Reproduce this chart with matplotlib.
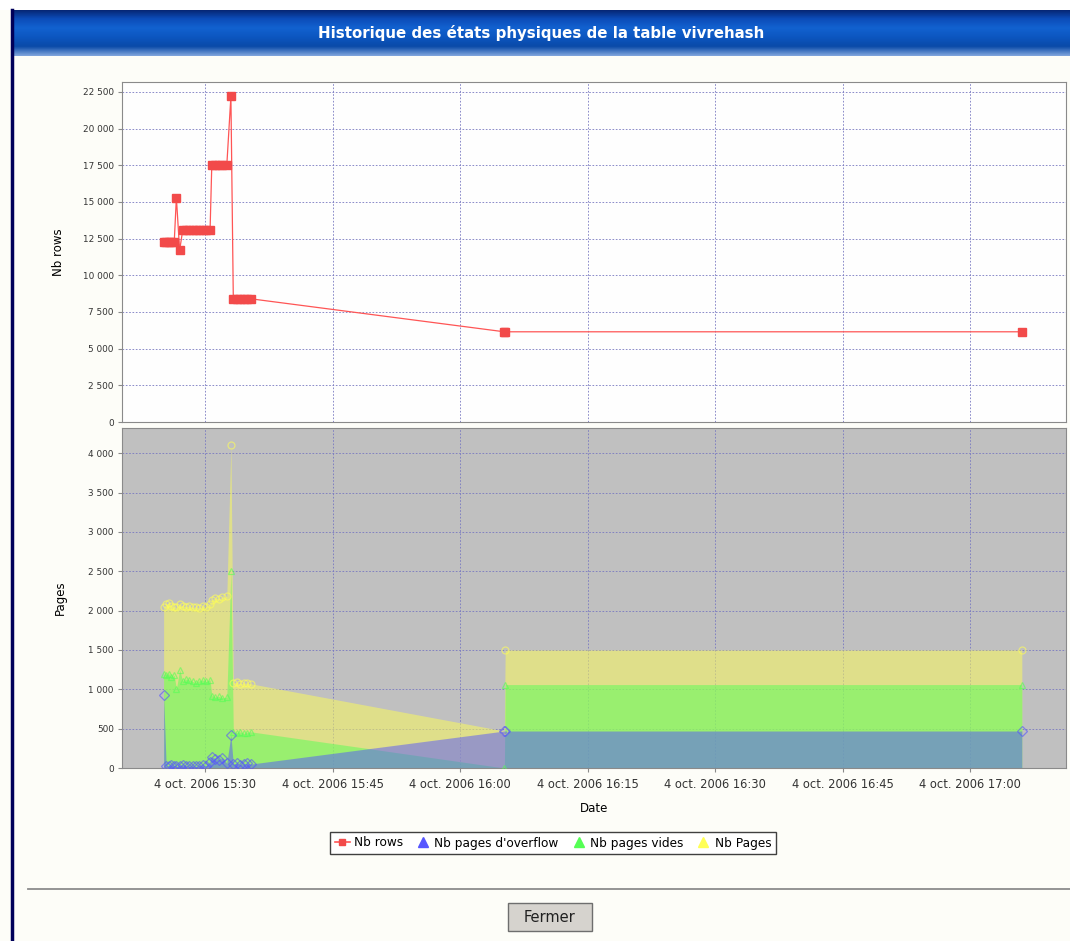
import numpy as np
import pandas as pd
import matplotlib
matplotlib.use("Agg")
import matplotlib.pyplot as plt
import matplotlib.dates as mdates
from matplotlib.lines import Line2D
from matplotlib.patches import Rectangle
from matplotlib.colors import LinearSegmentedColormap
from matplotlib.ticker import FuncFormatter, FixedLocator

plt.rcParams['font.family'] = ['DejaVu Sans']

# --- data ---
times = pd.to_datetime([
    "2006-10-04 15:25:06", "2006-10-04 15:25:24", "2006-10-04 15:25:42",
    "2006-10-04 15:26:00", "2006-10-04 15:26:21", "2006-10-04 15:26:36",
    "2006-10-04 15:26:59", "2006-10-04 15:27:21", "2006-10-04 15:27:42",
    "2006-10-04 15:28:06", "2006-10-04 15:28:30", "2006-10-04 15:28:54",
    "2006-10-04 15:29:18", "2006-10-04 15:29:42", "2006-10-04 15:30:06",
    "2006-10-04 15:30:34", "2006-10-04 15:30:46", "2006-10-04 15:31:12",
    "2006-10-04 15:31:36", "2006-10-04 15:32:00", "2006-10-04 15:32:32",
    "2006-10-04 15:33:01", "2006-10-04 15:33:18", "2006-10-04 15:33:42",
    "2006-10-04 15:34:06", "2006-10-04 15:34:30", "2006-10-04 15:34:54",
    "2006-10-04 15:35:21", "2006-10-04 16:05:12", "2006-10-04 16:05:18",
    "2006-10-04 17:06:06",
])
nb_rows = [12300, 12300, 12300, 12300, 12300, 15300, 11700, 13100, 13100,
           13100, 13100, 13100, 13100, 13100, 13100, 13100, 17500, 17500,
           17500, 17500, 17500, 22200, 8400, 8400, 8400, 8400, 8400,
           8400, 6150, 6150, 6150]
nb_overflow = [930, 20, 30, 40, 30, 20, 30, 40, 30, 20, 30, 20, 30, 40, 30,
               80, 140, 120, 100, 130, 60, 420, 50, 60, 40, 50, 60, 50,
               470, 470, 470]
nb_vides = [1200, 1180, 1200, 1150, 1180, 1000, 1250, 1100, 1130, 1120, 1100,
            1080, 1110, 1120, 1100, 1120, 920, 900, 910, 890, 900, 2500,
            460, 450, 460, 440, 450, 460, 0, 1060, 1060]
nb_pages = [2050, 2080, 2100, 2060, 2050, 2040, 2080, 2060, 2050, 2060, 2040,
            2050, 2030, 2060, 2050, 2090, 2140, 2160, 2150, 2170, 2180, 4110,
            1080, 1090, 1070, 1080, 1080, 1070, 470, 1500, 1500]

rows_ticks = [0, 2500, 5000, 7500, 10000, 12500, 15000, 17500, 20000, 22500]
pages_ticks = [0, 500, 1000, 1500, 2000, 2500, 3000, 3500, 4000]

title = "Historique des états physiques de la table vivrehash"
labels = ["Nb rows", "Nb pages d'overflow", "Nb pages vides", "Nb Pages"]

W, H = 1070, 941
bg = '#fdfdf8'


def fx(px):
    return px / W


def fy(py):
    return 1 - py / H


def fr_num(v, pos=None):
    return "{:,}".format(int(round(v))).replace(",", " ")


def fr_date(v, pos=None):
    d = mdates.num2date(v)
    return "4 oct. 2006 " + d.strftime("%H:%M")


fig = plt.figure(figsize=(W / 100, H / 100), dpi=100, facecolor=bg)

# white strip on top and dark frame on the left
fig.add_artist(Rectangle((0, fy(10)), 1, 10 / H, transform=fig.transFigure,
                         facecolor='white', edgecolor='none'))
fig.add_artist(Line2D([fx(11.5), fx(11.5)], [0, fy(10)], color='#00005a',
                      lw=2.5, transform=fig.transFigure))

# title bar
axt = fig.add_axes([fx(12), fy(56), 1 - fx(12), 46 / H])
grad = LinearSegmentedColormap.from_list(
    "bar", ['#06236e', '#0c4cb8', '#1262d0', '#0c56c0', '#0a4aa8', '#7ea4dc'])
axt.imshow(np.linspace(0, 1, 60).reshape(-1, 1), aspect='auto', cmap=grad,
           extent=[0, 1, 0, 1])
axt.set_axis_off()
axt.text(0.5, 0.5, title, color='white', fontsize=10.8, fontweight='bold',
         ha='center', va='center', transform=axt.transAxes)

# the two plots
ax1 = fig.add_axes([fx(122), fy(422), fx(944), 340 / H])
ax2 = fig.add_axes([fx(122), fy(768), fx(944), 340 / H], sharex=ax1)
ax1.set_facecolor('#fefefe')
ax2.set_facecolor('#c0c0c0')

for ax in (ax1, ax2):
    ax.grid(True, color='#7878c0', linestyle=(0, (2, 2)), linewidth=0.6)
    ax.set_axisbelow(True)
    for s in ax.spines.values():
        s.set_color('#8a8a8a')
        s.set_linewidth(0.8)
    ax.tick_params(axis='y', direction='out', length=3, color='#8a8a8a',
                   labelsize=6.4, labelcolor='#333333', pad=3)
    ax.yaxis.set_major_formatter(FuncFormatter(fr_num))

ax1.plot(times, nb_rows, color='#ff5555', lw=0.9, marker='s', ms=6,
         mfc='#f24a4a', mec='#f24a4a', zorder=3)
ax1.yaxis.set_major_locator(FixedLocator(rows_ticks))
ax1.set_ylim(0, 23180)
ax1.set_ylabel("Nb rows", fontsize=8.5)
ax1.yaxis.set_label_coords(-0.060, 0.5)
ax1.tick_params(axis='x', length=0, labelbottom=False)

series = [(nb_pages, '#ffff55', 'o'), (nb_vides, '#55ff55', '^'),
          (nb_overflow, '#5555ff', 'D')]
for vals, col, mk in series:
    ax2.fill_between(times, 0, vals, color=col, alpha=0.5, lw=0, zorder=2)
for vals, col, mk in series:
    ax2.plot(times, vals, ls='none', marker=mk, mfc='none', mec=col, mew=0.9,
             ms=5, alpha=0.6, zorder=3)
ax2.yaxis.set_major_locator(FixedLocator(pages_ticks))
ax2.set_ylim(0, 4320)
ax2.set_ylabel("Pages", fontsize=8.5)
ax2.yaxis.set_label_coords(-0.058, 0.5)
ax2.set_xlabel("Date", fontsize=8.5)
ax2.xaxis.set_label_coords(0.5, -0.101)

ax2.xaxis.set_major_locator(mdates.MinuteLocator(byminute=[0, 15, 30, 45]))
ax2.xaxis.set_major_formatter(FuncFormatter(fr_date))
ax2.tick_params(axis='x', direction='out', length=3, color='#8a8a8a',
                labelsize=8.3, labelcolor='#333333', pad=4)
ax2.set_xlim(pd.Timestamp("2006-10-04 15:20:12"),
             pd.Timestamp("2006-10-04 17:11:18"))

# legend
handles = [
    Line2D([0], [0], color='#ff5555', lw=1.2, marker='s', ms=5,
           mfc='#f24a4a', mec='#f24a4a'),
    Line2D([0], [0], ls='none', marker='^', ms=7, color='#5555ff'),
    Line2D([0], [0], ls='none', marker='^', ms=7, color='#55ff55'),
    Line2D([0], [0], ls='none', marker='^', ms=7, color='#ffff55'),
]
leg = fig.legend(handles, labels, loc='center', bbox_to_anchor=(fx(553), fy(843)),
                 ncol=4, fontsize=8.7, frameon=True, fancybox=False,
                 edgecolor='#404040', facecolor='white', handlelength=1.3,
                 handletextpad=0.3, columnspacing=1.0, borderpad=0.35,
                 framealpha=1)
leg.get_frame().set_linewidth(1)

# separator and button
fig.add_artist(Line2D([fx(28), 1], [fy(889), fy(889)], color='#8c8c8c',
                      lw=1.3, transform=fig.transFigure))
fig.add_artist(Rectangle((fx(508), fy(931)), 84 / W, 28 / H,
                         transform=fig.transFigure, facecolor='#d6d3ce',
                         edgecolor='#6e6e6e', lw=1))
fig.text(fx(550), fy(917), "Fermer", fontsize=10.5, ha='center', va='center',
         color='#202020')

fig.savefig("out.png", dpi=100, facecolor=fig.get_facecolor())
